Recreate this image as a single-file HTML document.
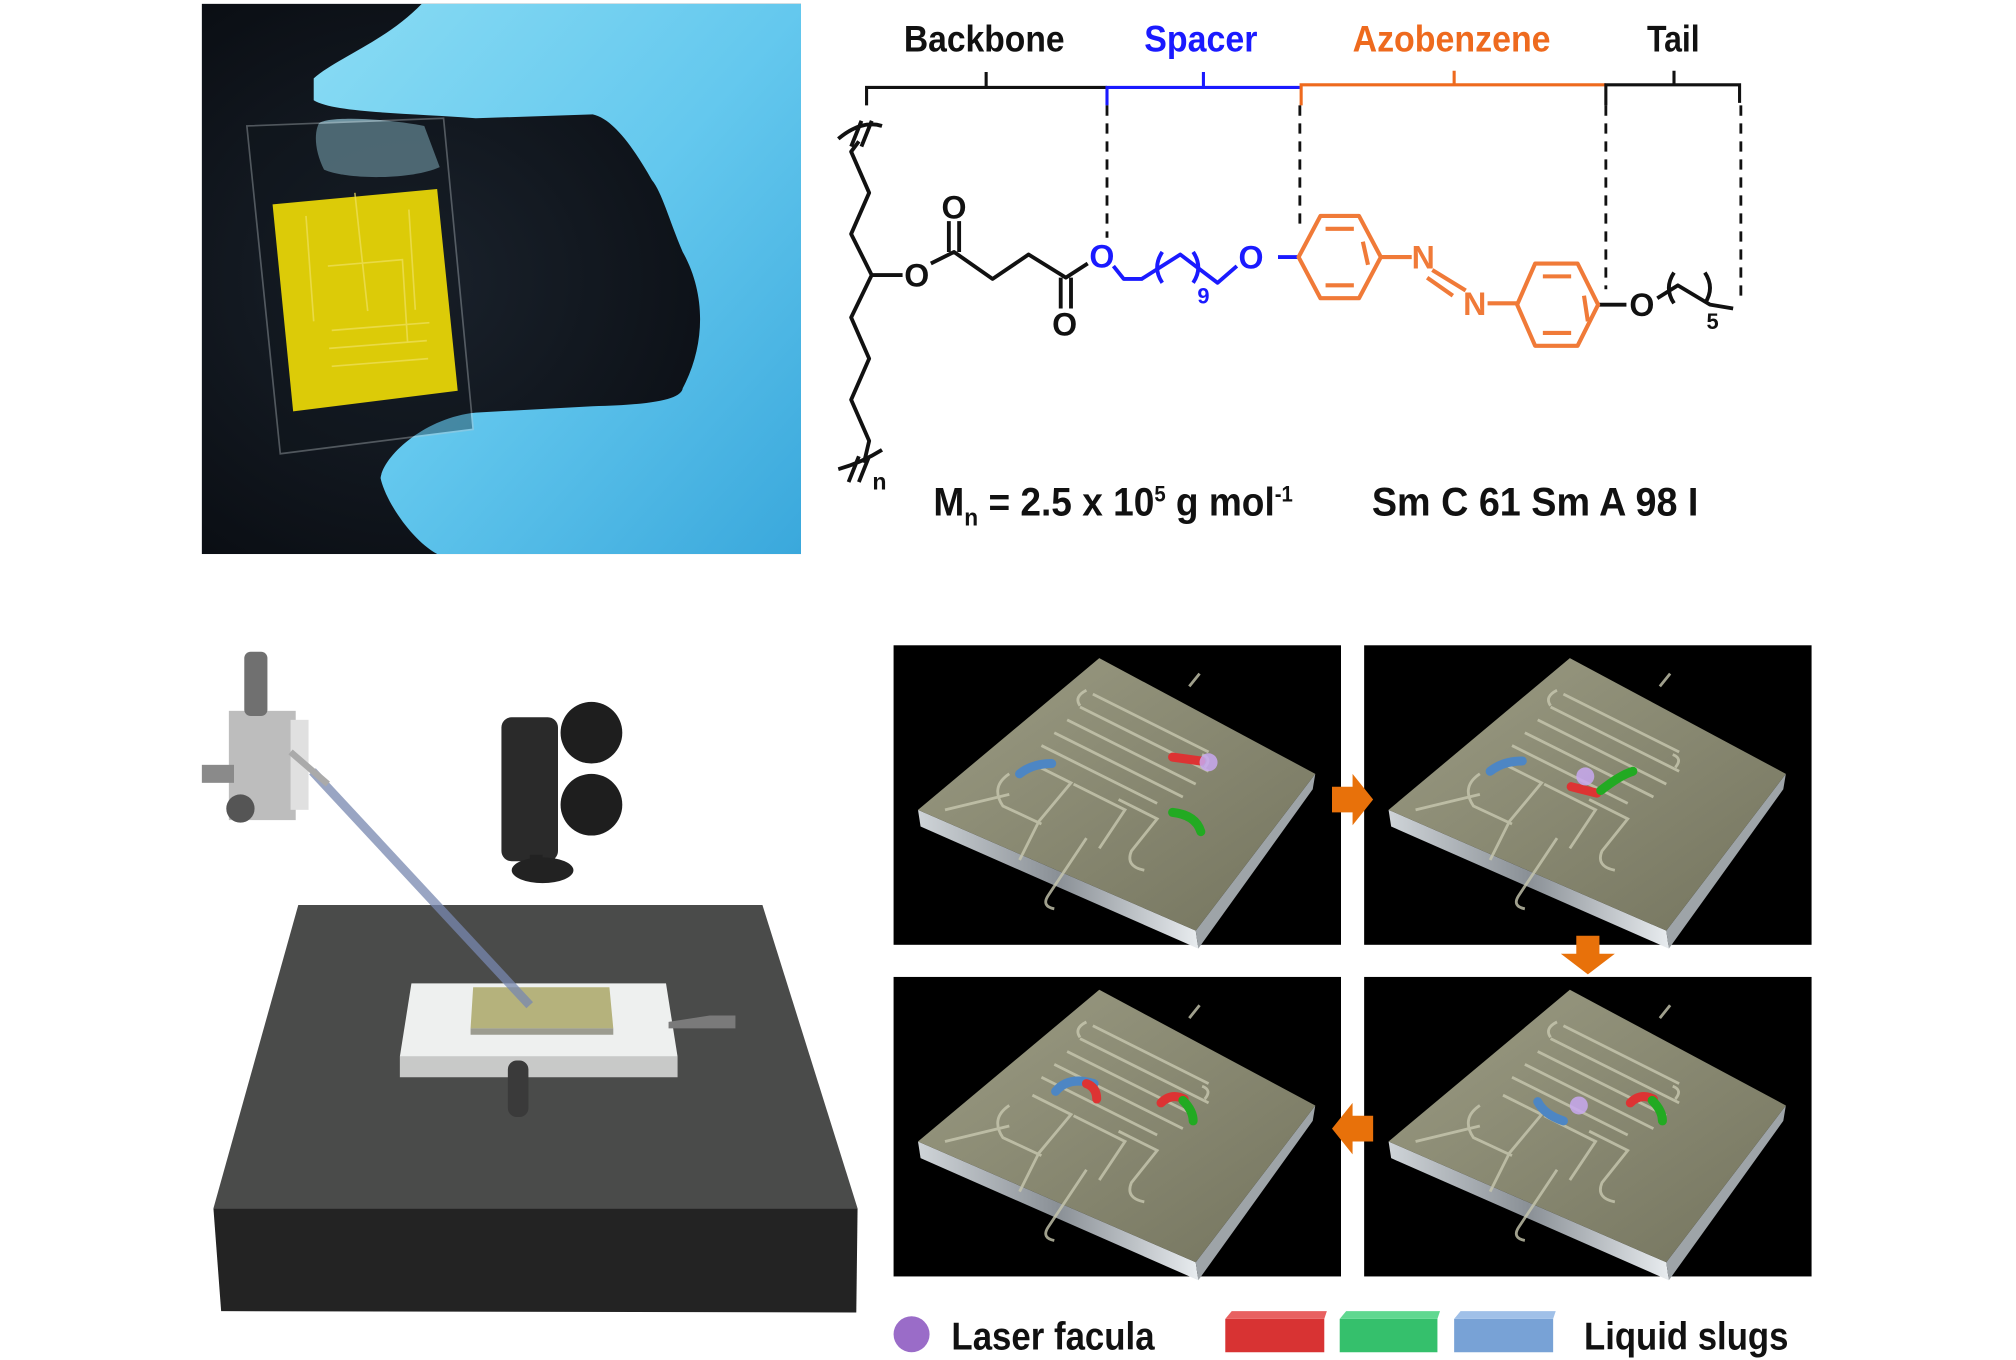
<!DOCTYPE html>
<html><head><meta charset="utf-8"><style>
html,body{margin:0;padding:0;background:#fff;}
svg{display:block;}
text{font-family:"Liberation Sans",sans-serif;font-weight:bold;}
</style></head><body>
<svg width="2016" height="1360" viewBox="0 0 1568 1058" preserveAspectRatio="none" xmlns="http://www.w3.org/2000/svg">
<defs>
<radialGradient id="bg" cx="0.35" cy="0.5" r="0.7"><stop offset="0" stop-color="#1a222c"/><stop offset="1" stop-color="#080b10"/></radialGradient>
<linearGradient id="glove" x1="0" y1="0" x2="1" y2="1"><stop offset="0" stop-color="#8adcf4"/><stop offset="0.5" stop-color="#64c8ee"/><stop offset="1" stop-color="#3aa8dc"/></linearGradient>
<linearGradient id="slabtop" x1="0" y1="0" x2="1" y2="1"><stop offset="0" stop-color="#9c9c84"/><stop offset="1" stop-color="#74745e"/></linearGradient>
<linearGradient id="edge" x1="0" y1="0" x2="1" y2="0"><stop offset="0" stop-color="#cfd4d8"/><stop offset="0.5" stop-color="#8a9096"/><stop offset="1" stop-color="#e8ecef"/></linearGradient>
<g id="slab">
<rect x="0" y="0" width="348" height="233" fill="#000"/>
<polygon points="19,128 235,222 237,236 21,141" fill="url(#edge)"/>
<polygon points="235,222 328,100 326,112 237,236" fill="#9ea4a8"/>
<polygon points="19,128 160,10 328,100 235,222" fill="url(#slabtop)"/>
<g fill="none" stroke="#c8c8b0" stroke-width="2.2" opacity="0.8">
<path d="M238,22 l-8,10 M155,38 l90,45 M145,48 l100,50 M135,58 l100,50 M125,68 l100,50 M115,78 l90,45 M150,35 q-10,5 -5,12 M240,85 q8,3 2,10"/>
<path d="M90,100 q-15,10 -5,25 l30,14 M108,92 l30,15 l-25,30 l-15,30 M140,108 l40,20 l-20,30 M175,120 l30,15 l-20,25 q-5,12 10,15"/>
<path d="M40,128 l50,-12 M150,150 l-30,45 q-5,8 5,10"/>
</g>
</g>
</defs>

<!-- Photo -->
<rect x="157" y="3" width="466" height="428" fill="url(#bg)"/>
<path d="M244,61 C262,45 300,32 328,3 L623,3 L623,431 L340,431 C320,420 300,390 296,372 C298,355 330,325 370,321 L461,316 C510,315 530,310 531,302 C548,270 550,230 531,196 C520,170 515,150 507,140 C490,110 475,92 461,89 L370,92 C320,88 260,88 244,78 Z" fill="url(#glove)"/>
<path d="M248,96 C255,90 300,92 330,98 L342,130 C320,140 270,140 252,132 C245,118 244,104 248,96 Z" fill="#7fa9b8" opacity="0.85"/>
<polygon points="192,98 345,92 368,334 218,353" fill="#10161c" opacity="0.35" stroke="#c8d0d4" stroke-width="1.3"/>
<polygon points="212,159 340,147 356,304 228,320" fill="#dccb08"/>
<g fill="none" stroke="#eee060" stroke-width="1.3" opacity="0.7">
<path d="M238,168 l6,82 M255,207 l58,-5 l4,64 M258,285 l75,-6 M256,271 l76,-6 M258,257 l76,-6 M318,163 l5,78 M276,150 l10,92"/>
</g>

<!-- Chemistry headers -->
<text x="703" y="40" font-size="29" textLength="125" lengthAdjust="spacingAndGlyphs" fill="#111">Backbone</text>
<text x="890" y="40" font-size="29" textLength="88" lengthAdjust="spacingAndGlyphs" fill="#1a1aff">Spacer</text>
<text x="1052" y="40" font-size="29" textLength="154" lengthAdjust="spacingAndGlyphs" fill="#ee6a1e">Azobenzene</text>
<text x="1281" y="40" font-size="29" textLength="41" lengthAdjust="spacingAndGlyphs" fill="#111">Tail</text>
<g fill="none" stroke-width="2.4">
<path d="M674,82 L674,68 L861,68 M767,68 L767,56" stroke="#111"/>
<path d="M861,82 L861,68 L1011,68 M936,68 L936,56" stroke="#1a1aff"/>
<path d="M1012,82 L1012,66 L1249,66 M1131,66 L1131,55" stroke="#ee6a1e"/>
<path d="M1249,82 L1249,66 L1353,66 L1353,80 M1302,66 L1302,55" stroke="#111"/>
</g>
<g stroke="#111" stroke-width="2.2" stroke-dasharray="8,6">
<line x1="861" y1="82" x2="861" y2="185"/>
<line x1="1011" y1="82" x2="1011" y2="180"/>
<line x1="1249" y1="82" x2="1249" y2="225"/>
<line x1="1354" y1="82" x2="1354" y2="235"/>
</g>
<g fill="none" stroke="#111" stroke-width="3" stroke-linejoin="round">
<path d="M668,110 L662,118 L676,150 L662,182 L678,214 L662,247 L676,279 L662,311 L676,343 L672,360"/>
<path d="M652,108 q18,-15 34,-10 M670,94 l-8,20 M678,94 l-8,20"/>
<path d="M652,365 q18,-5 34,-15 M668,355 l-8,20 M676,355 l-8,20"/>
<path d="M678,214 L702,214 M724,205 L742,196 L772,217 L800,198 L829,216 L846,205"/>
<path d="M738,196 L738,172 M746,196 L746,172 M825,216 L825,240 M833,216 L833,240"/>
<path d="M1265,237 L1243,237"/>
<path d="M1289,232 L1305,222 L1330,237 L1348,240 M1302,212 q-8,12 0,24 M1326,212 q8,12 0,24"/>
</g>
<g font-size="25" fill="#111" text-anchor="middle">
<text x="713" y="223">O</text><text x="742" y="170">O</text><text x="828" y="261">O</text><text x="1277" y="246">O</text>
<text x="684" y="381" font-size="18">n</text><text x="1332" y="256" font-size="17">5</text>
</g>
<g fill="none" stroke="#1a1aff" stroke-width="3" stroke-linejoin="round">
<path d="M866,207 L874,217 L888,217 L918,198 L947,220 L962,207 M994,200 L1010,200"/>
<path d="M904,196 q-8,12 0,24 M928,196 q8,12 0,24"/>
</g>
<g font-size="25" fill="#1a1aff" text-anchor="middle">
<text x="857" y="208">O</text><text x="973" y="209">O</text><text x="936" y="236" font-size="17">9</text>
</g>
<g fill="none" stroke="#f07a38" stroke-width="3.2" stroke-linejoin="round">
<polygon points="1010,200 1027,168 1057,168 1074,200 1057,232 1027,232"/>
<path d="M1031,178 L1053,178 M1060,188 L1064,206 M1031,222 L1053,222"/>
<path d="M1074,200 L1098,200 M1114,210 L1140,226 M1110,216 L1130,230 M1157,236 L1180,236"/>
<polygon points="1180,237 1194,205 1227,205 1243,237 1227,269 1194,269"/>
<path d="M1200,215 L1222,215 M1232,230 L1235,250 M1200,259 L1222,259"/>
</g>
<g font-size="25" fill="#f07a38" text-anchor="middle">
<text x="1107" y="209">N</text><text x="1147" y="245">N</text>
</g>
<g transform="translate(726,0) scale(0.93,1)">
<text x="0" y="401" font-size="31" fill="#111">M<tspan font-size="19" dy="8">n</tspan><tspan dy="-8"> = 2.5 x 10</tspan><tspan font-size="17" dy="-11">5</tspan><tspan dy="11"> g mol</tspan><tspan font-size="17" dy="-11">-1</tspan></text>
</g>
<text x="1067" y="401" font-size="31" textLength="254" lengthAdjust="spacingAndGlyphs" fill="#111">Sm C 61 Sm A 98 I</text>

<!-- 3D setup -->
<polygon points="232,704 593,704 667,940 166,940" fill="#4a4b4a"/>
<polygon points="166,940 667,940 666,1021 172,1020" fill="#232323"/>
<polygon points="320,765 518,765 527,822 311,822" fill="#eef0ef"/>
<polygon points="311,822 527,822 527,838 311,838" fill="#c8c9c8"/>
<polygon points="368,768 474,768 477,800 366,800" fill="#b5b27c"/>
<polygon points="366,800 477,800 477,805 366,805" fill="#9c9c90"/>
<path d="M520,795 L552,790 L572,790 L572,800 L552,800 L520,800 Z" fill="#7a7a7a"/>
<rect x="395" y="825" width="16" height="44" rx="7" fill="#3a3a3a"/>
<line x1="243" y1="600" x2="412" y2="782" stroke="#7888b0" stroke-width="7" opacity="0.75"/>
<rect x="178" y="553" width="52" height="85" fill="#bdbdbd"/>
<rect x="226" y="560" width="14" height="70" fill="#e0e0e0"/>
<rect x="157" y="595" width="25" height="14" fill="#8a8a8a"/>
<rect x="190" y="507" width="18" height="50" rx="5" fill="#707070"/>
<circle cx="187" cy="629" r="11" fill="#555"/>
<line x1="226" y1="585" x2="255" y2="610" stroke="#aaa" stroke-width="5"/>
<circle cx="460" cy="570" r="24" fill="#1e1e1e"/>
<circle cx="460" cy="626" r="24" fill="#1e1e1e"/>
<rect x="390" y="558" width="44" height="112" rx="8" fill="#2a2a2a"/>
<rect x="412" y="665" width="10" height="12" fill="#222"/>
<ellipse cx="422" cy="677" rx="24" ry="10" fill="#222"/>

<!-- panels -->
<use href="#slab" x="695" y="502"/>
<use href="#slab" x="1061" y="502"/>
<use href="#slab" x="695" y="760"/>
<use href="#slab" x="1061" y="760"/>
<g stroke-width="7" fill="none" stroke-linecap="round">
<path d="M793,602 q10,-8 25,-8" stroke="#4d86c4"/><path d="M912,589 l22,3" stroke="#d33"/><path d="M912,632 q18,2 22,15" stroke="#2a2"/>
<path d="M1159,600 q10,-8 25,-8" stroke="#4d86c4"/><path d="M1222,612 l20,5" stroke="#d33"/><path d="M1245,615 q15,-12 25,-15" stroke="#2a2"/>
<path d="M821,849 q10,-12 30,-6" stroke="#4d86c4"/><path d="M845,843 q8,3 8,12" stroke="#d33"/><path d="M903,858 q8,-8 18,-3" stroke="#d33"/><path d="M920,856 q8,8 8,16" stroke="#2a2"/>
<path d="M1196,857 q5,10 20,15" stroke="#4d86c4"/><path d="M1268,858 q8,-8 18,-3" stroke="#d33"/><path d="M1285,856 q8,8 8,16" stroke="#2a2"/>
</g>
<g fill="#c8a8f0" opacity="0.85"><circle cx="940" cy="593" r="7"/><circle cx="1233" cy="604" r="7"/><circle cx="1228" cy="860" r="7"/></g>
<g fill="#e8710a">
<polygon points="1036,612 1052,612 1052,602 1068,622 1052,642 1052,632 1036,632"/>
<polygon points="1226,728 1244,728 1244,742 1256,742 1235,758 1214,742 1226,742"/>
<polygon points="1068,868 1052,868 1052,858 1036,878 1052,898 1052,888 1068,888"/>
</g>

<!-- legend -->
<circle cx="709" cy="1038" r="14" fill="#9a6cc8"/>
<text x="740" y="1050" font-size="30" textLength="158" lengthAdjust="spacingAndGlyphs" fill="#111">Laser facula</text>
<polygon points="953,1026 1030,1026 1030,1052 953,1052" fill="#d83333"/><polygon points="953,1026 958,1020 1032,1020 1030,1026" fill="#e86060"/>
<polygon points="1042,1026 1118,1026 1118,1052 1042,1052" fill="#35c06c"/><polygon points="1042,1026 1047,1020 1120,1020 1118,1026" fill="#60d890"/>
<polygon points="1131,1026 1208,1026 1208,1052 1131,1052" fill="#78a2d6"/><polygon points="1131,1026 1136,1020 1210,1020 1208,1026" fill="#a0c0e8"/>
<text x="1232" y="1050" font-size="30" textLength="159" lengthAdjust="spacingAndGlyphs" fill="#111">Liquid slugs</text>
</svg>
</body></html>
